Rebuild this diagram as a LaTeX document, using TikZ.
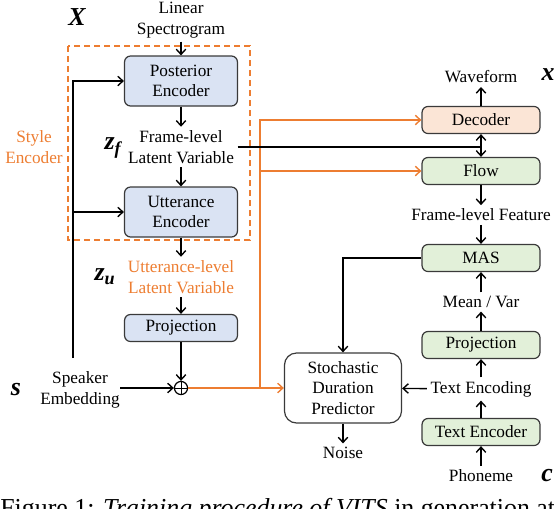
\documentclass[tikz,border=0pt]{standalone}
\usepackage{fontspec}
\setmainfont{Liberation Serif}
\usepackage{xcolor}
\usepackage{tikz}
\usetikzlibrary{arrows.meta,positioning}
\definecolor{orng}{HTML}{ED7D31}
\definecolor{bluefill}{HTML}{DAE3F3}
\definecolor{greenfill}{HTML}{E2F0D9}
\definecolor{decfill}{HTML}{FBE5D6}
\definecolor{edge}{HTML}{3A3A3A}

\begin{document}
\begin{tikzpicture}[
    x=0.58pt, y=-0.58pt,
    font=\fontsize{10}{12}\selectfont,
    box/.style={draw=edge, line width=0.7pt, rounded corners=3.5pt, minimum width=65.5pt, minimum height=15.7pt, align=center, inner sep=1pt},
    bluebox/.style={box, fill=bluefill},
    greenbox/.style={box, fill=greenfill, minimum width=68.4pt},
    lbl/.style={align=center, inner sep=2pt},
    sym/.style={font=\fontsize{15}{18}\selectfont\bfseries\itshape, inner sep=0pt},
    arrow/.style={-{Straight Barb[length=3pt,width=5.5pt]}, line width=0.8pt},
    oarrow/.style={arrow, draw=orng}
]
    \useasboundingbox (0,0) rectangle (554,508);

    % style encoder (left column)
    \node[sym] (X) at (77,17) {X};
    \node[lbl] (spec) at (181,20) {Linear\\Spectrogram};
    \node[bluebox, minimum height=29pt] (post) at (181,81) {Posterior\\Encoder};
    \node[sym] (zf) at (113,148) {z\textsubscript{f}};
    \node[lbl] (flv) at (181,147) {Frame-level\\Latent Variable};
    \node[bluebox, minimum height=29pt] (utt) at (181,212) {Utterance\\Encoder};
    \node[sym] (zu) at (105,277) {z\textsubscript{u}};
    \node[lbl, text=orng] (ulv) at (181,277) {Utterance-level\\Latent Variable};
    \node[bluebox] (proj1) at (181,328) {Projection};
    \node[circle, draw, line width=0.7pt, minimum size=7.6pt, inner sep=0pt] (plus) at (181,388) {};
    \node[lbl] (spk) at (80,390) {Speaker\\Embedding};
    \node[sym] (s) at (16,390) {s};
    \node[lbl, text=orng] (style) at (34,147) {Style\\Encoder};
    \draw[orng, line width=0.8pt, dash pattern=on 3.5pt off 2.3pt] (68,46) rectangle (250,240);

    % VITS (right column)
    \node[lbl] (wave) at (481,77) {Waveform};
    \node[sym] (x) at (548,75) {x};
    \node[box, fill=decfill, minimum width=68.4pt] (dec) at (481,120) {Decoder};
    \node[greenbox] (flow) at (481,171) {Flow};
    \node[lbl] (flf) at (481,215) {Frame-level Feature};
    \node[greenbox] (mas) at (481,258) {MAS};
    \node[lbl] (mv) at (481,302) {Mean / Var};
    \node[greenbox] (proj2) at (481,345) {Projection};
    \node[lbl] (tenc) at (481,389) {Text Encoding};
    \node[greenbox] (tencoder) at (481,432) {Text Encoder};
    \node[lbl] (phon) at (481,476) {Phoneme};
    \node[sym] (c) at (547,476) {c};
    \node[box, rounded corners=7pt, minimum width=67.9pt, minimum height=40.6pt] (sdp) at (343,388) {Stochastic\\Duration\\Predictor};
    \node[lbl] (noise) at (343,453) {Noise};

    \node[anchor=base west, inner sep=0pt, font=\fontsize{15}{18}\selectfont] (cap) at (0,516) {Figure 1: \textit{Training procedure of VITS} in generation att};

    \draw (plus.north) -- (plus.south) (plus.west) -- (plus.east);

    \draw[arrow] (spec) -- (post);
    \draw[arrow] (post) -- (flv);
    \draw[arrow] (flv) -- (utt);
    \draw[arrow] (utt) -- (ulv);
    \draw[arrow] (ulv) -- (proj1);
    \draw[arrow] (proj1) -- (plus);
    \coordinate (se) at (120,388);
    \draw[arrow] (se) -- (plus);
    \coordinate (sv) at (73,358);
    \draw[arrow] (sv) |- (post.west);
    \draw[arrow] (sv |- utt.west) -- (utt.west);

    \draw[oarrow] (plus) -- (sdp);
    \coordinate (ob) at (260,388);
    \draw[oarrow] (ob) |- (dec.west);
    \draw[oarrow] (ob |- flow.west) -- (flow.west);

    \coordinate (fj) at (dec.south |- flv.east);
    \draw[line width=0.8pt] (flv.east) -- (fj);
    \draw[arrow] (fj) -- (dec.south);
    \draw[arrow] (fj) -- (flow.north);
    \draw[arrow] (dec) -- (wave);
    \draw[arrow] (flow) -- (flf);
    \draw[arrow] (flf) -- (mas);
    \draw[arrow] (mv) -- (mas);
    \draw[arrow] (proj2) -- (mv);
    \draw[arrow] (tenc) -- (proj2);
    \draw[arrow] (tencoder) -- (tenc);
    \draw[arrow] (phon) -- (tencoder);
    \draw[arrow] (tenc) -- (sdp);
    \draw[arrow] (mas.west) -| (sdp.north);
    \draw[arrow] (sdp) -- (noise);
\end{tikzpicture}
\end{document}
